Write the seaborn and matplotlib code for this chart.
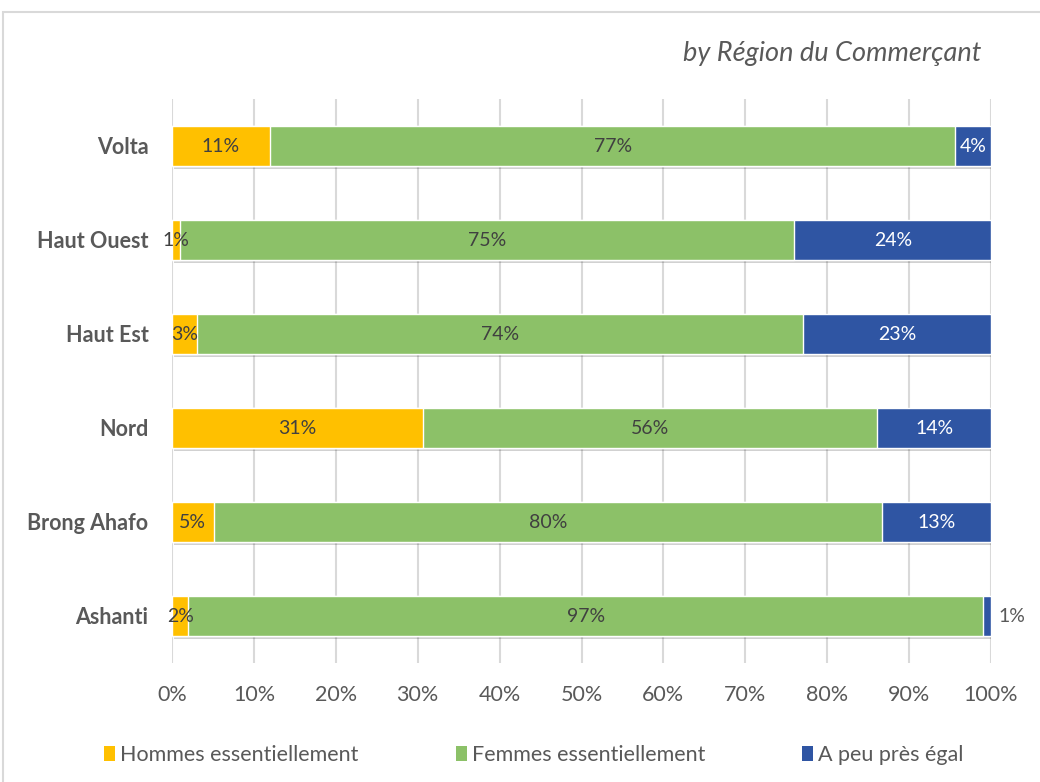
import numpy as np
import pandas as pd
import matplotlib
matplotlib.use("Agg")
import matplotlib.pyplot as plt
import matplotlib.patheffects as pe
from matplotlib.patches import Rectangle, Patch
import seaborn as sns

# Regions (top to bottom) and the share of each answer, as labelled
regions = ["Volta", "Haut Ouest", "Haut Est", "Nord", "Brong Ahafo", "Ashanti"]
hommes = [11, 1, 3, 31, 5, 2]
femmes = [77, 75, 74, 56, 80, 97]
egal = [4, 24, 23, 14, 13, 1]
series_names = ["Hommes essentiellement", "Femmes essentiellement", "A peu près égal"]
xticks = [0, 10, 20, 30, 40, 50, 60, 70, 80, 90, 100]

colors = ["#FFC000", "#8CC168", "#2F55A3"]
text_grey = "#595959"

sns.set_theme(style="white")
plt.rcParams["font.family"] = ["Lato", "DejaVu Sans"]

df = pd.DataFrame({"region": regions, "h": hommes, "f": femmes, "e": egal})
total = df[["h", "f", "e"]].sum(axis=1)
# 100 % stacked: each row normalised to its own total
df["p_h"] = df["h"] / total * 100
df["p_f"] = df["f"] / total * 100
df["p_e"] = df["e"] / total * 100
df["c1"] = df["p_h"]
df["c2"] = df["p_h"] + df["p_f"]
df["c3"] = df["c2"] + df["p_e"]

W, H = 1040, 782
fig = plt.figure(figsize=(W / 100, H / 100), dpi=100)
ax = fig.add_axes([172 / W, 1 - 663 / H, (991 - 172) / W, (663 - 99) / H])

# chart frame
fig.patches.append(Rectangle((3 / W, 0 - 0.05), 1.1, 1 - 12 / H + 0.05,
                             transform=fig.transFigure, fill=False,
                             edgecolor="#D9D9D9", lw=1.5, zorder=0))

bw = 0.42
shadow = [pe.SimplePatchShadow(offset=(1.5, -2.5), shadow_rgbFace="black", alpha=0.18), pe.Normal()]
sns.barplot(data=df, x="c3", y="region", order=regions, color=colors[2],
            width=bw, saturation=1, ax=ax, zorder=3)
for p in ax.patches:
    p.set_path_effects(shadow)
sns.barplot(data=df, x="c2", y="region", order=regions, color=colors[1],
            width=bw, saturation=1, ax=ax, zorder=4)
sns.barplot(data=df, x="c1", y="region", order=regions, color=colors[0],
            width=bw, saturation=1, ax=ax, zorder=5)

# value labels
fs_val = 14
for i, row in df.iterrows():
    ax.text(row["c1"] / 2, i, f"{row['h']}%", ha="center", va="center",
            fontsize=fs_val, color="#404040", zorder=6)
    ax.text(row["c1"] + row["p_f"] / 2, i, f"{row['f']}%", ha="center", va="center",
            fontsize=fs_val, color="#404040", zorder=6)
    if row["p_e"] < 3:
        ax.text(row["c3"] + 0.9, i, f"{row['e']}%", ha="left", va="center",
                fontsize=fs_val, color=text_grey, zorder=6)
    else:
        ax.text(row["c2"] + row["p_e"] / 2, i, f"{row['e']}%", ha="center", va="center",
                fontsize=fs_val, color="white", zorder=6)

ax.set_xlim(0, 100)
ax.set_ylim(len(regions) - 0.5, -0.5)
ax.set_xticks(xticks)
ax.set_xticklabels([f"{t}%" for t in xticks])
ax.grid(axis="x", color="#D9D9D9", lw=1.5, zorder=0)
ax.set_axisbelow(True)
for s in ax.spines.values():
    s.set_visible(False)
ax.set_xlabel("")
ax.set_ylabel("")
ax.tick_params(axis="x", length=0, pad=16, labelsize=15.5, labelcolor=text_grey)
ax.tick_params(axis="y", length=0, pad=17, labelsize=15.5, labelcolor=text_grey)
for lab in ax.get_yticklabels():
    lab.set_fontweight("bold")

fig.text(981 / W, 1 - 53 / H, "by Région du Commerçant", ha="right", va="center",
         fontsize=19.5, style="italic", color=text_grey)

handles = [Patch(facecolor=c, edgecolor="none") for c in colors]
fig.legend(handles, series_names, loc="center", bbox_to_anchor=(534 / W, 1 - 755 / H),
           ncol=3, frameon=False, fontsize=15.5, labelcolor=text_grey,
           handlelength=0.5, handleheight=0.7, handletextpad=0.25, columnspacing=4.5)

fig.savefig("out.png", dpi=100)
